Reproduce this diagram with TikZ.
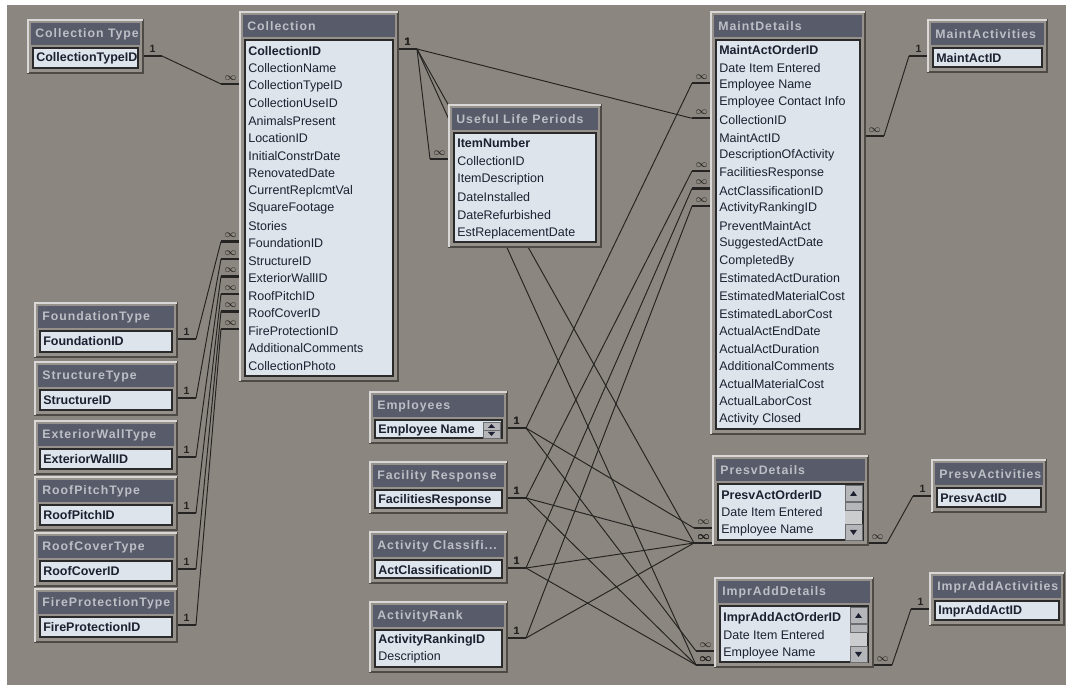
\documentclass[tikz,border=0pt]{standalone}
\usepackage{fontspec}
\setmainfont{Liberation Sans}
\newfontfamily\titlefont[LetterSpace=8]{Liberation Sans}
\pgfdeclarelayer{bg}
\pgfdeclarelayer{links}
\pgfsetlayers{bg,links,main}
\definecolor{deskgray}{HTML}{8B867F}
\definecolor{framegray}{HTML}{96918B}
\definecolor{frameedge}{HTML}{4E4B47}
\definecolor{barslate}{HTML}{585B69}
\definecolor{titleink}{HTML}{BDBFC6}
\definecolor{listfill}{HTML}{DDE4EB}
\definecolor{listedge}{HTML}{2A2A2A}
\definecolor{fieldink}{HTML}{1D2030}
\definecolor{linkink}{HTML}{262422}
\definecolor{scrollgray}{HTML}{B4B6B9}
\newcommand\manysign{$\infty$}
\newcommand\aclname{Activity Classifi...}

\begin{document}
\begin{tikzpicture}[x=0.02cm, y=-0.02cm,
  tblframe/.style={fill=framegray, draw=frameedge, line width=0.6pt, inner sep=0, outer sep=0, anchor=north west},
  titlebar/.style={fill=barslate},
  titletxt/.style={text=titleink, font=\fontsize{7}{8}\titlefont\bfseries, anchor=west, inner sep=0},
  fieldlist/.style={fill=listfill, draw=listedge, line width=0.8pt},
  fieldtxt/.style={text=fieldink, font=\fontsize{7.1}{8}\selectfont, anchor=west, inner sep=0},
  keytxt/.style={fieldtxt, font=\fontsize{7.1}{8}\selectfont\bfseries},
  relline/.style={draw=linkink, line width=0.55pt},
  relstub/.style={draw=linkink, line width=1.3pt},
  cardtxt/.style={text=linkink, font=\fontsize{6}{6}\selectfont\bfseries, inner sep=0}]

  \useasboundingbox (0,0) rectangle (1066,685);
  \begin{pgfonlayer}{bg}
    \fill[white] (0,0) rectangle (1066,685);
    \fill[deskgray] (7,5) rectangle (1066,685);
  \end{pgfonlayer}

  % tables
  \foreach \n/\x/\y/\w/\h/\ttl in {
      ct/28/20/115/53/Collection Type, coll/240/12/158/369/Collection,
      ulp/449/105/152/142/Useful Life Periods, mdt/711/12/154/422/MaintDetails,
      mact/928/20/119/52/MaintActivities,
      fnd/35/303/142/54/FoundationType, str/35/362/142/53/StructureType,
      ext/35/421/142/53/ExteriorWallType, rpt/35/477/142/53/RoofPitchType,
      rcv/35/533/142/53/RoofCoverType, fpr/35/589/142/53/FireProtectionType,
      emp/370/392/137/51/Employees, fac/370/462/137/51/Facility Response,
      acl/370/532/137/51/\aclname, ark/370/602/137/70/ActivityRank,
      psv/713/456/155/89/PresvDetails, pact/932/460/114/52/PresvActivities,
      imp/715/578/158/89/ImprAddDetails, iact/930/573/134/52/ImprAddActivities}{
    \node[tblframe, minimum width=\w*0.02cm, minimum height=\h*0.02cm] (\n) at (\x,\y) {};
    \draw[white!65!framegray, line width=0.7pt] (\n.south west) -- (\n.north west) -- (\n.north east);
    \fill[titlebar] ([shift={(3,3)}]\n.north west) rectangle ([shift={(-3,25)}]\n.north east);
    \node[titletxt] (\n-t) at ([shift={(7,14)}]\n.north west) {\ttl};
    \draw[fieldlist] ([shift={(5,28)}]\n.north west) rectangle ([shift={(-5,-5)}]\n.south east);
  }

  % one-field tables
  \foreach \n/\f in {ct/CollectionTypeID, mact/MaintActID, fnd/FoundationID,
      str/StructureID, ext/ExteriorWallID, rpt/RoofPitchID, rcv/RoofCoverID,
      fpr/FireProtectionID, emp/Employee Name, fac/FacilitiesResponse,
      acl/ActClassificationID, pact/PresvActID, iact/ImprAddActID}
    \node[keytxt] (\n-0) at ([shift={(8,38)}]\n.north west) {\f};

  \node[keytxt] (coll-0) at ([shift={(8,39)}]coll.north west) {CollectionID};
  \foreach \f [count=\i] in {CollectionName, CollectionTypeID, CollectionUseID,
      AnimalsPresent, LocationID, InitialConstrDate, RenovatedDate, CurrentReplcmtVal,
      SquareFootage, Stories, FoundationID, StructureID, ExteriorWallID, RoofPitchID,
      RoofCoverID, FireProtectionID, AdditionalComments, CollectionPhoto}
    \node[fieldtxt] (coll-\i) at ([shift={(8,{39+17.5*\i})}]coll.north west) {\f};

  \node[keytxt] (ulp-0) at ([shift={(8,38)}]ulp.north west) {ItemNumber};
  \foreach \f [count=\i] in {CollectionID, ItemDescription, DateInstalled,
      DateRefurbished, EstReplacementDate}
    \node[fieldtxt] (ulp-\i) at ([shift={(8,{38+18*\i})}]ulp.north west) {\f};

  \node[keytxt] (mdt-0) at ([shift={(8,38)}]mdt.north west) {MaintActOrderID};
  \foreach \f [count=\i] in {Date Item Entered, Employee Name, Employee Contact Info,
      CollectionID, MaintActID, DescriptionOfActivity, FacilitiesResponse,
      ActClassificationID, ActivityRankingID, PreventMaintAct, SuggestedActDate,
      CompletedBy, EstimatedActDuration, EstimatedMaterialCost, EstimatedLaborCost,
      ActualActEndDate, ActualActDuration, AdditionalComments, ActualMaterialCost,
      ActualLaborCost, Activity Closed}
    \node[fieldtxt] (mdt-\i) at ([shift={(8,{38+17.57*\i})}]mdt.north west) {\f};

  \node[keytxt] (ark-0) at ([shift={(8,38)}]ark.north west) {ActivityRankingID};
  \node[fieldtxt] (ark-1) at ([shift={(8,55)}]ark.north west) {Description};

  \node[keytxt] (psv-0) at ([shift={(8,39)}]psv.north west) {PresvActOrderID};
  \node[fieldtxt] (psv-1) at ([shift={(8,56.5)}]psv.north west) {Date Item Entered};
  \node[fieldtxt] (psv-2) at ([shift={(8,74)}]psv.north west) {Employee Name};
  \node[keytxt] (imp-0) at ([shift={(8,40)}]imp.north west) {ImprAddActOrderID};
  \node[fieldtxt] (imp-1) at ([shift={(8,57.5)}]imp.north west) {Date Item Entered};
  \node[fieldtxt] (imp-2) at ([shift={(8,75)}]imp.north west) {Employee Name};

  % scroll bars
  \foreach \n in {psv, imp}{
    \fill[scrollgray!70!white] ([shift={(-23,29)}]\n.north east) rectangle ([shift={(-6,-5)}]\n.south east);
    \draw[scrollgray!60!black, fill=scrollgray] ([shift={(-23,29)}]\n.north east) rectangle ([shift={(-6,45)}]\n.north east);
    \draw[scrollgray!60!black, fill=scrollgray] ([shift={(-23,46)}]\n.north east) rectangle ([shift={(-6,54)}]\n.north east);
    \draw[scrollgray!60!black, fill=scrollgray] ([shift={(-23,-21)}]\n.south east) rectangle ([shift={(-6,-5)}]\n.south east);
    \fill[fieldink] ([shift={(-18,40)}]\n.north east) -- ([shift={(-11,40)}]\n.north east) -- ([shift={(-14.5,35)}]\n.north east) -- cycle;
    \fill[fieldink] ([shift={(-18,-15)}]\n.south east) -- ([shift={(-11,-15)}]\n.south east) -- ([shift={(-14.5,-10)}]\n.south east) -- cycle;
  }
  \draw[scrollgray!60!black, fill=scrollgray] ([shift={(-24,30)}]emp.north east) rectangle ([shift={(-7,46)}]emp.north east);
  \draw[scrollgray!60!black] ([shift={(-24,38)}]emp.north east) -- ([shift={(-7,38)}]emp.north east);
  \fill[fieldink] ([shift={(-19,36)}]emp.north east) -- ([shift={(-12,36)}]emp.north east) -- ([shift={(-15.5,32)}]emp.north east) -- cycle;
  \fill[fieldink] ([shift={(-19,40)}]emp.north east) -- ([shift={(-12,40)}]emp.north east) -- ([shift={(-15.5,44)}]emp.north east) -- cycle;

  \coordinate (psv-low) at (psv.south west);
  \coordinate (imp-low) at (imp.south west);
  \coordinate (psv-lowr) at (psv.south east);
  \coordinate (imp-lowr) at (imp.south east);

  % relationships
  \begin{pgfonlayer}{links}
  \foreach \s/\sf/\t/\tf/\sl/\tl [count=\k] in {
      ct/ct-0/coll/coll-2/1/\manysign, fnd/fnd-0/coll/coll-11/1/\manysign,
      str/str-0/coll/coll-12/1/\manysign, ext/ext-0/coll/coll-13/1/\manysign,
      rpt/rpt-0/coll/coll-14/1/\manysign, rcv/rcv-0/coll/coll-15/1/\manysign,
      fpr/fpr-0/coll/coll-16/1/\manysign,
      coll/coll-0/mdt/mdt-4/1/\manysign, coll/coll-0/ulp/ulp-1/1/\manysign,
      coll/coll-0/psv/psv-low/1/\manysign, coll/coll-0/imp/imp-low/1/\manysign,
      emp/emp-0/mdt/mdt-2/1/\manysign, emp/emp-0/psv/psv-2/1/\manysign,
      emp/emp-0/imp/imp-2/1/\manysign,
      fac/fac-0/mdt/mdt-7/1/\manysign, fac/fac-0/psv/psv-low/1/\manysign,
      fac/fac-0/imp/imp-low/1/\manysign,
      acl/acl-0/mdt/mdt-8/1/\manysign, acl/acl-0/psv/psv-low/1/\manysign,
      acl/acl-0/imp/imp-low/1/\manysign,
      ark/ark-0/mdt/mdt-9/1/\manysign, ark/ark-0/psv/psv-low/1/\manysign,
      mdt/mdt-5/mact/mact-0/\manysign/1, psv/psv-lowr/pact/pact-0/\manysign/1,
      imp/imp-lowr/iact/iact-0/\manysign/1}{
    \path (\s.east |- \sf) ++(0,-2) coordinate (a\k) ++(19,0) coordinate (b\k);
    \path (\t.west |- \tf) ++(0,-2) coordinate (d\k) ++(-19,0) coordinate (c\k);
    \draw[relline] (b\k) -- (c\k);
    \draw[relstub] (a\k) -- (b\k) node[cardtxt, midway, above=1.5pt] (sl\k) {\sl};
    \draw[relstub] (c\k) -- (d\k) node[cardtxt, midway, above=1.5pt] (tl\k) {\tl};
  }
  \end{pgfonlayer}
\end{tikzpicture}
\end{document}
